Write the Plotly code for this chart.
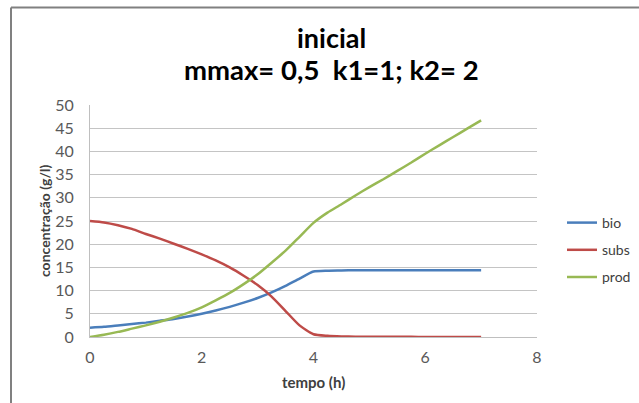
import plotly.graph_objects as go

tempo = [0, 0.25, 0.5, 0.75, 1, 1.25, 1.5, 1.75, 2, 2.25, 2.5, 2.75, 3, 3.25, 3.5,
         3.75, 4, 4.25, 4.5, 4.75, 5, 5.25, 5.5, 5.75, 6, 6.25, 6.5, 6.75, 7]
bio = [2.0, 2.2, 2.5, 2.8, 3.1, 3.5, 3.9, 4.4, 5.0, 5.7, 6.5, 7.4, 8.4, 9.6, 11.0,
       12.6, 14.1, 14.3, 14.35, 14.4, 14.4, 14.4, 14.4, 14.4, 14.4, 14.4, 14.4, 14.4, 14.4]
subs = [25.0, 24.7, 24.1, 23.3, 22.2, 21.2, 20.1, 19.0, 17.8, 16.5, 15.0, 13.2, 11.2, 8.7, 5.6,
        2.5, 0.6, 0.25, 0.12, 0.08, 0.05, 0.04, 0.03, 0.03, 0.02, 0.02, 0.01, 0.01, 0.0]
prod = [0.0, 0.5, 1.1, 1.8, 2.5, 3.3, 4.2, 5.2, 6.4, 7.9, 9.5, 11.4, 13.5, 16.0, 18.6,
        21.6, 24.6, 26.8, 28.6, 30.5, 32.3, 34.0, 35.8, 37.6, 39.5, 41.3, 43.1, 44.9, 46.7]

series = [("bio", bio, "#4a7ebb"), ("subs", subs, "#be4b48"), ("prod", prod, "#98b954")]

FONT = "Lato, 'Open Sans', sans-serif"

fig = go.Figure()
for name, vals, col in series:
    fig.add_trace(go.Scatter(x=tempo, y=vals, name=name, mode="lines", legendgroup=name,
                             line=dict(color=col, width=2.5, shape="spline", smoothing=0.6)))

L, R, T, B = 90, 102, 105, 66
W, H = 639, 403
pw, ph = W - L - R, H - T - B

def px2paper_x(px):
    return (px - L) / pw

def px2paper_y(py):
    return (H - B - py) / ph

fig.update_layout(
    width=W, height=H,
    margin=dict(l=L, r=R, t=T, b=B, autoexpand=False),
    paper_bgcolor="white", plot_bgcolor="white",
    font=dict(family=FONT, color="#595959"),
    showlegend=True,
    legend=dict(x=px2paper_x(562), y=px2paper_y(207), xanchor="left", yanchor="top",
                font=dict(size=14, color="#404040"), tracegroupgap=6,
                itemwidth=30, bgcolor="rgba(0,0,0,0)"),
    xaxis=dict(range=[0, 8], dtick=2, showgrid=False, zeroline=False,
               showline=True, linecolor="#bfbfbf", linewidth=1,
               ticks="", tickfont=dict(size=16, color="#595959"), ticklabelstandoff=6),
    yaxis=dict(range=[0, 50], dtick=5, showgrid=True, gridcolor="#c4c4c4", gridwidth=1,
               zeroline=False, showline=True, linecolor="#bfbfbf", linewidth=1,
               ticks="", tickfont=dict(size=16, color="#595959"), ticklabelstandoff=12),
    annotations=[
        dict(text="<b>inicial</b>", x=px2paper_x(331), y=px2paper_y(37), xref="paper", yref="paper",
             showarrow=False, font=dict(size=27, color="#000000"), xanchor="center", yanchor="middle"),
        dict(text="<b>mmax= 0,5  k1=1; k2= 2</b>", x=px2paper_x(331), y=px2paper_y(70), xref="paper", yref="paper",
             showarrow=False, font=dict(size=27.5, color="#000000"), xanchor="center", yanchor="middle"),
        dict(text="<b>tempo (h)</b>", x=px2paper_x(313), y=px2paper_y(382), xref="paper", yref="paper",
             showarrow=False, font=dict(size=15, color="#404040"), xanchor="center", yanchor="middle"),
        dict(text="<b>concentração (g/l)</b>", x=px2paper_x(44), y=px2paper_y(221), xref="paper", yref="paper",
             showarrow=False, textangle=-90, font=dict(size=14, color="#404040"),
             xanchor="center", yanchor="middle"),
    ],
    shapes=[
        dict(type="line", xref="paper", yref="paper", x0=px2paper_x(11), x1=px2paper_x(11),
             y0=px2paper_y(7.5), y1=px2paper_y(410), line=dict(color="#808080", width=2)),
        dict(type="line", xref="paper", yref="paper", x0=px2paper_x(11), x1=px2paper_x(650),
             y0=px2paper_y(7.5), y1=px2paper_y(7.5), line=dict(color="#808080", width=2)),
    ],
)

fig.write_html("out.html")
